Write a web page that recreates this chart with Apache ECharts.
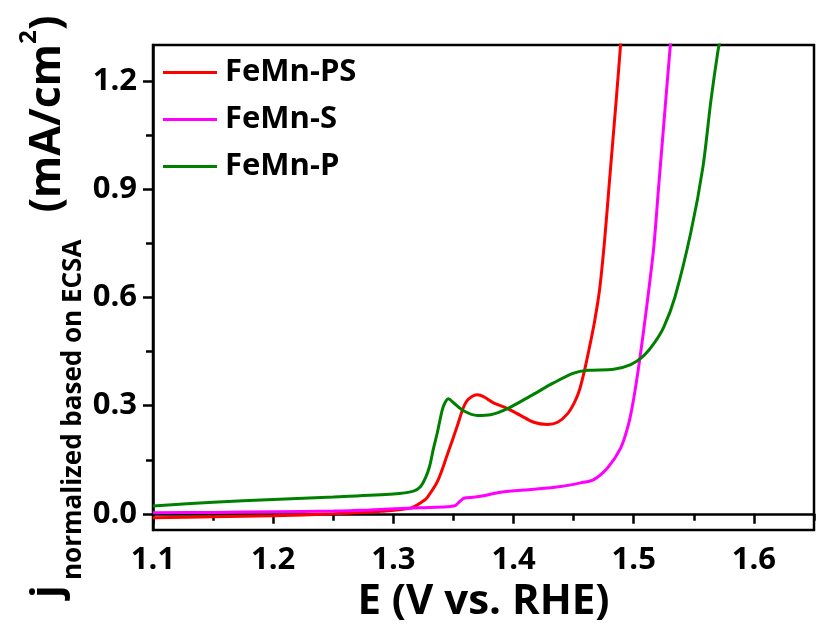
<!DOCTYPE html>
<html><head><meta charset="utf-8">
<script src="https://cdn.jsdelivr.net/npm/echarts@6/dist/echarts.min.js"></script>
<style>html,body{margin:0;padding:0;background:#fff}#c{width:818px;height:628px}</style>
</head><body><div id="c"></div>
<script>
const seriesNames = ['FeMn-PS', 'FeMn-S', 'FeMn-P'];
const seriesColors = ['#ff0000', '#ff00ff', '#008000'];
const xTickLabels = [1.1, 1.2, 1.3, 1.4, 1.5, 1.6];
const xMinorTicks = [1.15, 1.25, 1.35, 1.45, 1.55, 1.65];
const yTickLabels = [0, 0.3, 0.6, 0.9, 1.2];
const yMinorTicks = [0.15, 0.45, 0.75, 1.05];

const psE = [1.10,1.15,1.20,1.25,1.29,1.3142,1.325,1.3283,1.3367,1.345,1.3533,1.3583,1.3625,1.37,1.375,1.3833,1.395,1.4058,1.4167,1.4283,1.4367,1.445,1.4508,1.455,1.4592,1.4633,1.4675,1.4717,1.4758,1.48,1.485,1.49];
const psJ = [-0.011,-0.008,-0.005,0.000,0.007,0.016,0.036,0.046,0.09,0.165,0.245,0.295,0.318,0.33,0.325,0.308,0.292,0.273,0.254,0.248,0.254,0.278,0.31,0.345,0.40,0.464,0.535,0.625,0.76,0.93,1.13,1.34];

const sE = [1.10,1.15,1.20,1.25,1.28,1.3225,1.345,1.35,1.352,1.3558,1.3592,1.3667,1.375,1.3892,1.4167,1.4392,1.4558,1.4667,1.4783,1.4892,1.4958,1.50,1.5042,1.5083,1.5125,1.5167,1.5208,1.525,1.5292,1.531];
const sJ = [0.003,0.004,0.006,0.008,0.011,0.017,0.02,0.022,0.024,0.036,0.044,0.046,0.05,0.06,0.068,0.076,0.086,0.095,0.128,0.183,0.25,0.32,0.41,0.51,0.62,0.74,0.91,1.08,1.25,1.32];

const pE = [1.10,1.15,1.20,1.25,1.30,1.3167,1.3225,1.3267,1.33,1.3333,1.3367,1.3408,1.3433,1.3458,1.35,1.3583,1.37,1.3808,1.395,1.4142,1.4333,1.45,1.4617,1.4833,1.4975,1.5075,1.5167,1.525,1.5342,1.5475,1.5575,1.5642,1.57,1.5717];
const pJ = [0.022,0.032,0.040,0.047,0.055,0.063,0.075,0.10,0.13,0.18,0.227,0.29,0.31,0.319,0.308,0.286,0.273,0.275,0.292,0.327,0.363,0.39,0.398,0.401,0.414,0.436,0.472,0.518,0.60,0.78,0.96,1.145,1.282,1.31];

const seriesE = [psE, sE, pE];
const seriesJ = [psJ, sJ, pJ];

const FONT = 'Open Sans';
const chart = echarts.init(document.getElementById('c'));
const grid = {left: 153, right: 4, top: 45, bottom: 92, show: true, borderColor: '#000', borderWidth: 2.5, backgroundColor: 'transparent'};
const labelStyle = {color: '#000', fontFamily: FONT, fontWeight: 'bold', fontSize: 31};

chart.setOption({
  backgroundColor: '#ffffff',
  animation: false,
  grid: grid,
  legend: {
    orient: 'vertical', left: 163, top: 57, padding: 0, itemGap: 16,
    itemWidth: 54, itemHeight: 3, icon: 'rect',
    data: seriesNames,
    textStyle: {color: '#000', fontFamily: FONT, fontWeight: 'bold', fontSize: 31, padding: [0, 0, 0, 3]}
  },
  xAxis: [{
    type: 'value', min: 1.1, max: 1.65, position: 'bottom',
    name: 'E (V vs. RHE)', nameLocation: 'middle', nameGap: 46,
    nameTextStyle: {color: '#000', fontFamily: FONT, fontWeight: 'bold', fontSize: 42},
    axisLine: {show: true, lineStyle: {color: '#000', width: 2.5}},
    axisTick: {show: true, inside: false, length: 10, lineStyle: {color: '#000', width: 2.5}, customValues: xTickLabels},
    axisLabel: Object.assign({margin: 15, customValues: xTickLabels, formatter: v => v.toFixed(1)}, labelStyle),
    splitLine: {show: false}
  }, {
    type: 'value', min: 1.1, max: 1.65, position: 'bottom',
    axisLine: {show: false},
    axisTick: {show: true, inside: false, length: 7, lineStyle: {color: '#000', width: 2.5}, customValues: xMinorTicks},
    axisLabel: {show: false},
    splitLine: {show: false}
  }],
  yAxis: [{
    type: 'value', min: -0.045, max: 1.3, position: 'left',
    axisLine: {show: true, lineStyle: {color: '#000', width: 2.5}},
    axisTick: {show: true, inside: false, length: 10, lineStyle: {color: '#000', width: 2.5}, customValues: yTickLabels},
    axisLabel: Object.assign({margin: 16, customValues: yTickLabels, formatter: v => v.toFixed(1)}, labelStyle),
    splitLine: {show: false}
  }, {
    type: 'value', min: -0.045, max: 1.3, position: 'left',
    axisLine: {show: false},
    axisTick: {show: true, inside: false, length: 7, lineStyle: {color: '#000', width: 2.5}, customValues: yMinorTicks},
    axisLabel: {show: false},
    splitLine: {show: false}
  }],
  series: seriesNames.map((n, i) => ({
    name: n, type: 'line', xAxisIndex: 0, yAxisIndex: 0,
    data: seriesE[i].map((e, k) => [e, seriesJ[i][k]]),
    symbol: 'none', showSymbol: false, smooth: 0.3, clip: true,
    lineStyle: {color: seriesColors[i], width: 3},
    itemStyle: {color: seriesColors[i]}
  })),
  graphic: [
    {type: 'text', x: 48, y: 598, rotation: Math.PI / 2,
     style: {text: 'j', fontFamily: FONT, fontWeight: 'bold', fontSize: 42, fill: '#000', align: 'left', verticalAlign: 'middle'}},
    {type: 'text', x: 74, y: 580, rotation: Math.PI / 2,
     style: {text: 'normalized based on ECSA', fontFamily: FONT, fontWeight: 'bold', fontSize: 26, fill: '#000', align: 'left', verticalAlign: 'middle'}},
    {type: 'text', x: 48, y: 44, rotation: Math.PI / 2,
     style: {text: '(mA/cm', fontFamily: FONT, fontWeight: 'bold', fontSize: 43, fill: '#000', align: 'right', verticalAlign: 'middle'}},
    {type: 'text', x: 29, y: 44, rotation: Math.PI / 2,
     style: {text: '2', fontFamily: FONT, fontWeight: 'bold', fontSize: 24, fill: '#000', align: 'left', verticalAlign: 'middle'}},
    {type: 'text', x: 48, y: 30, rotation: Math.PI / 2,
     style: {text: ')', fontFamily: FONT, fontWeight: 'bold', fontSize: 43, fill: '#000', align: 'left', verticalAlign: 'middle'}}
  ]
});
</script>
</body></html>
